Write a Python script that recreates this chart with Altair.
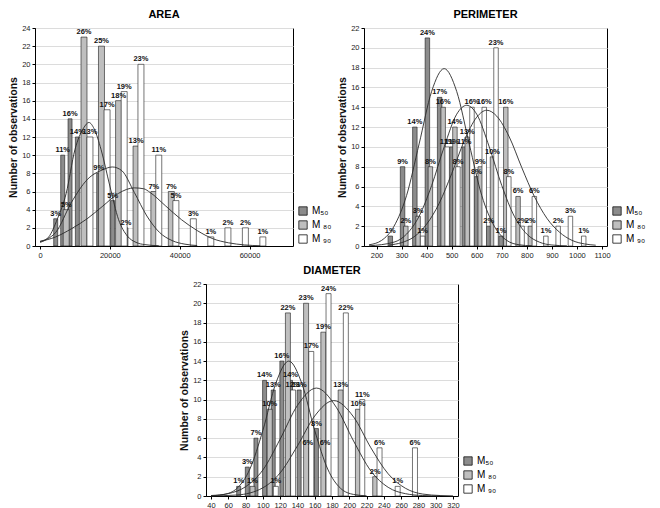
import altair as alt
import pandas as pd

SERIES = ["M₅₀", "M ₈₀", "M ₉₀"]
FILLS = ["#8c8c8c", "#bfbfbf", "#ffffff"]

# ---------------- AREA ----------------
A_M50_x = [4500, 6500, 8600, 10700, 16800, 20800, 24600]
A_M50_n = [3, 10, 14, 12, 8, 5, 2]
A_M50_lab = ["3%", "11%", "16%", "14%", "9%", "5%", "2%"]
A_M80_x = [7500, 12600, 17600, 22500, 27500, 32600, 37600]
A_M80_n = [4, 23, 22, 16, 11, 6, 6]
A_M80_lab = ["5%", "26%", "25%", "18%", "13%", "7%", "7%"]
A_M90_x = [14300, 19200, 24100, 28900, 34000, 38900, 43900, 48900, 53800, 58800, 63800]
A_M90_n = [12, 15, 17, 20, 10, 5, 3, 1, 2, 2, 1]
A_M90_lab = ["13%", "17%", "19%", "23%", "11%", "5%", "3%", "1%", "2%", "2%", "1%"]

A_C50_x = [0, 2500, 5000, 7500, 10000, 12500, 14000, 15500, 17500, 20000, 22500, 25000, 27500, 30000, 34000]
A_C50_y = [0.4, 1.0, 3.0, 5.8, 10.6, 13.0, 13.6, 12.9, 10.6, 6.6, 2.9, 1.1, 0.4, 0.15, 0.03]
A_C80_x = [0, 4500, 9000, 13500, 18000, 20700, 23400, 27000, 30600, 34200, 37800, 41500, 45000]
A_C80_y = [0.5, 1.5, 4.8, 7.3, 8.4, 8.7, 8.3, 5.9, 3.3, 1.5, 0.6, 0.2, 0.05]
A_C90_x = [0, 4500, 9000, 13500, 18000, 22500, 27000, 29700, 31500, 36000, 40500, 45000, 49500, 54000, 58500, 63000]
A_C90_y = [0.5, 1.0, 1.9, 3.0, 4.4, 5.8, 6.4, 6.3, 5.9, 4.4, 2.9, 1.7, 0.8, 0.35, 0.12, 0.03]
A_XTICKS = [0, 20000, 40000, 60000]
A_YTICKS = list(range(0, 25, 2))

# ---------------- PERIMETER ----------------
P_M50_x = [255, 304, 353, 403, 452, 501, 550, 599, 648, 697]
P_M50_n = [1, 8, 12, 21, 15, 10, 10, 7, 2, 1]
P_M50_lab = ["1%", "9%", "14%", "24%", "17%", "11%", "11%", "8%", "2%", "1%"]
P_M80_x = [317, 366, 415, 466, 513, 562, 614, 663, 716, 765, 814]
P_M80_n = [2, 3, 8, 14, 12, 11, 8, 9, 14, 5, 2]
P_M80_lab = ["2%", "3%", "8%", "16%", "14%", "13%", "9%", "10%", "16%", "6%", "2%"]
P_M90_x = [384, 482, 525, 581, 630, 677, 728, 781, 830, 876, 925, 974, 1027]
P_M90_n = [1, 10, 8, 14, 14, 20, 7, 2, 5, 1, 2, 3, 1]
P_M90_lab = ["1%", "11%", "8%", "16%", "16%", "23%", "8%", "2%", "6%", "1%", "2%", "3%", "1%"]

P_C50_x = [170, 220, 270, 320, 370, 420, 470, 520, 570, 620, 670, 720, 770, 820]
P_C50_y = [0.12, 0.56, 2.0, 5.1, 10.3, 15.6, 17.9, 15.6, 10.3, 5.1, 2.0, 0.56, 0.12, 0.02]
P_C80_x = [170, 270, 320, 370, 420, 470, 520, 560, 600, 650, 700, 750, 800, 850, 900, 960]
P_C80_y = [0.02, 0.39, 1.2, 3.0, 6.1, 10.0, 13.3, 14.2, 13.3, 10.0, 6.1, 3.0, 1.2, 0.39, 0.1, 0.02]
P_C90_x = [250, 300, 350, 400, 450, 500, 550, 600, 640, 680, 730, 780, 830, 880, 930, 980, 1030, 1075]
P_C90_y = [0.1, 0.34, 0.93, 2.2, 4.3, 7.3, 10.6, 13.0, 13.7, 13.1, 11.0, 7.9, 5.0, 2.8, 1.4, 0.57, 0.21, 0.08]
P_XTICKS = list(range(200, 1101, 100))
P_YTICKS = list(range(0, 23, 2))

# ---------------- DIAMETER ----------------
D_M50_x = [72, 82, 92, 102, 112, 122, 132, 142, 152, 162, 172]
D_M50_n = [1, 3, 6, 12, 11, 14, 12, 11, 5, 7, 5]
D_M50_lab = ["1%", "3%", "7%", "14%", "13%", "16%", "14%", "13%", "6%", "8%", "6%"]
D_M80_x = [88, 108, 129, 150, 170, 190, 210, 230]
D_M80_n = [1, 9, 19, 20, 17, 11, 9, 2]
D_M80_lab = ["1%", "10%", "22%", "23%", "19%", "13%", "10%", "2%"]
D_M90_x = [115, 135, 156, 176, 196, 215, 235, 256, 276]
D_M90_n = [1, 11, 15, 21, 19, 10, 5, 1, 5]
D_M90_lab = ["1%", "12%", "17%", "24%", "22%", "11%", "6%", "1%", "6%"]

D_C50_x = [40, 55, 70, 85, 100, 115, 130, 145, 160, 175, 190, 205, 220]
D_C50_y = [0.02, 0.16, 0.79, 2.8, 6.8, 11.7, 14.0, 11.7, 6.8, 2.8, 0.79, 0.16, 0.02]
D_C80_x = [40, 60, 80, 100, 120, 140, 162, 185, 205, 225, 245, 265, 285, 305]
D_C80_y = [0.05, 0.25, 0.96, 2.7, 5.9, 9.4, 11.2, 9.2, 5.7, 2.6, 0.9, 0.24, 0.05, 0.01]
D_C90_x = [40, 70, 100, 120, 140, 160, 182, 205, 225, 245, 265, 285, 305, 320]
D_C90_y = [0.01, 0.1, 0.85, 2.4, 5.2, 8.3, 9.9, 8.2, 5.0, 2.3, 0.8, 0.2, 0.05, 0.01]
D_XTICKS = list(range(40, 321, 20))
D_YTICKS = list(range(0, 23, 2))

FONT = "Liberation Sans"


def bars(x, n, lab, s):
    return pd.DataFrame({"x": x, "n": n, "lab": lab, "s": s})


def curve(x, y, s):
    return pd.DataFrame({"x": x, "y": y, "s": s})


def panel(title, bar_sets, curve_sets, xdom, xticks, ymax, yticks, w, h, widths):
    xs = alt.Scale(domain=xdom, nice=False, zero=False)
    ys = alt.Scale(domain=[0, ymax], nice=False)
    xax = alt.Axis(values=xticks, format="d", grid=False, title=None,
                   labelOverlap=False, labelFlush=False)
    yax = alt.Axis(values=yticks, grid=True, title="Number of observations",
                   labelOverlap=False)
    cs = alt.Scale(domain=SERIES, range=FILLS)
    leg = alt.Legend(orient="none", legendX=w + 5, legendY=h - 40, title=None,
                     symbolType="square", symbolSize=70, symbolStrokeColor="#111",
                     symbolStrokeWidth=0.8, labelFontSize=10, labelFont=FONT,
                     rowPadding=2, symbolOffset=0)
    X = alt.X("x:Q", scale=xs, axis=xax)
    layers = []
    for df, wd in zip(bar_sets, widths):
        layers.append(
            alt.Chart(df).mark_bar(size=wd, stroke="#1a1a1a", strokeWidth=0.6).encode(
                x=X,
                y=alt.Y("n:Q", scale=ys, axis=yax),
                color=alt.Color("s:N", scale=cs, legend=leg),
            )
        )
    lines = alt.Chart(pd.concat(curve_sets)).mark_line(
        interpolate="monotone", color="#2a2a2a", strokeWidth=0.9
    ).encode(x=X, y=alt.Y("y:Q", scale=ys, axis=yax), detail="s:N")
    layers.append(lines)
    texts = alt.Chart(pd.concat(bar_sets)).mark_text(
        baseline="bottom", dy=-1, fontSize=7.5, fontWeight="bold", font=FONT, color="#111"
    ).encode(x=X, y=alt.Y("n:Q", scale=ys, axis=yax), text="lab:N")
    layers.append(texts)
    return alt.layer(*layers).properties(
        width=w, height=h,
        title=alt.Title(title, fontSize=11, font=FONT, fontWeight="bold", offset=4,
                        anchor="middle", frame="group"),
    )


area = panel(
    "AREA",
    [bars(A_M50_x, A_M50_n, A_M50_lab, SERIES[0]),
     bars(A_M80_x, A_M80_n, A_M80_lab, SERIES[1]),
     bars(A_M90_x, A_M90_n, A_M90_lab, SERIES[2])],
    [curve(A_C50_x, A_C50_y, SERIES[0]), curve(A_C80_x, A_C80_y, SERIES[1]),
     curve(A_C90_x, A_C90_y, SERIES[2])],
    [0, 71000], A_XTICKS, 24, A_YTICKS, 258, 218, [4, 6, 6],
)
perim = panel(
    "PERIMETER",
    [bars(P_M50_x, P_M50_n, P_M50_lab, SERIES[0]),
     bars(P_M80_x, P_M80_n, P_M80_lab, SERIES[1]),
     bars(P_M90_x, P_M90_n, P_M90_lab, SERIES[2])],
    [curve(P_C50_x, P_C50_y, SERIES[0]), curve(P_C80_x, P_C80_y, SERIES[1]),
     curve(P_C90_x, P_C90_y, SERIES[2])],
    [170, 1100], P_XTICKS, 22, P_YTICKS, 243, 218, [4.5, 4.5, 4.5],
)
diam = panel(
    "DIAMETER",
    [bars(D_M50_x, D_M50_n, D_M50_lab, SERIES[0]),
     bars(D_M80_x, D_M80_n, D_M80_lab, SERIES[1]),
     bars(D_M90_x, D_M90_n, D_M90_lab, SERIES[2])],
    [curve(D_C50_x, D_C50_y, SERIES[0]), curve(D_C80_x, D_C80_y, SERIES[1]),
     curve(D_C90_x, D_C90_y, SERIES[2])],
    [40, 320], D_XTICKS, 22, D_YTICKS, 252, 212, [4, 5, 5],
)

# invisible spacer that pushes the DIAMETER panel to its place in the lower row
spacer = alt.Chart(pd.DataFrame({"v": [0]})).mark_point(opacity=0).encode(
    x=alt.X("v:Q", axis=None), y=alt.Y("v:Q", axis=None)
).properties(width=144, height=10, view=alt.ViewBackground(stroke=None))

top = alt.hconcat(area, perim, spacing=4).resolve_scale(color="independent").resolve_legend(color="independent")
bottom = alt.hconcat(spacer, diam, spacing=0).resolve_scale(color="independent").resolve_legend(color="independent")
chart = alt.vconcat(top, bottom, spacing=5).resolve_scale(
    color="independent").resolve_legend(color="independent").properties(padding=0)

chart = chart.configure_view(stroke="#000", strokeWidth=1).configure_axis(
    labelFont=FONT, labelFontSize=7.5, labelColor="#222", titleFont=FONT, titleFontSize=10.5,
    titleFontWeight="bold", titleColor="#111", tickSize=3, tickColor="#000",
    domainColor="#000", gridColor="#dcdcdc", labelPadding=2, titlePadding=3,
    labelOverlap=False,
)

chart.save("out.html", embed_options={"renderer": "svg", "actions": False})
